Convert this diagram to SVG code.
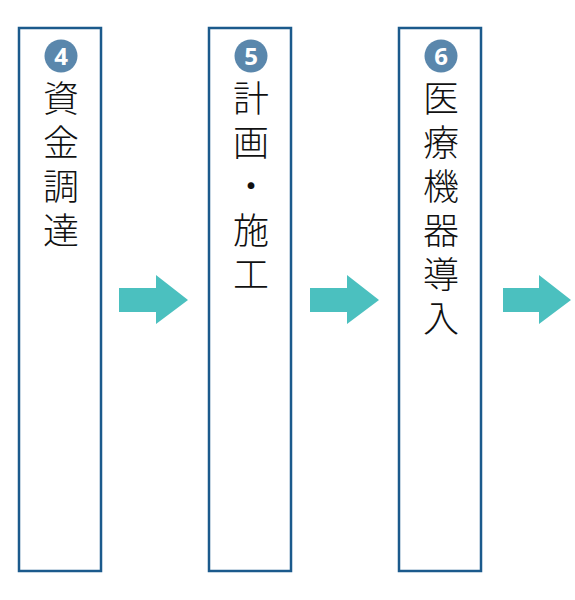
<svg xmlns="http://www.w3.org/2000/svg" width="575" height="600" viewBox="0 0 575 600">
<style>
.box{fill:#fff;stroke:#1b5a8c;stroke-width:2.5}
.num{fill:#5a87ac}
.nt{font-family:"Open Sans","DejaVu Sans",sans-serif;font-weight:bold;font-size:24px;fill:#fff;text-anchor:middle}
.ch{font-family:"Noto Sans CJK JP",sans-serif;font-weight:300;font-size:36px;fill:#111;writing-mode:tb;letter-spacing:8px}
.arr{fill:#4bc0bf}
</style>
<rect width="575" height="600" fill="#fff"/>
<g id="node4">
<rect class="box" x="19" y="28" width="82" height="543"/>
<circle class="num" cx="61" cy="56" r="16.5"/>
<text class="nt" x="61" y="64.5">4</text>
<text class="ch" x="61" y="80">資金調達</text>
</g>
<g id="node5">
<rect class="box" x="209" y="28" width="82" height="543"/>
<circle class="num" cx="251" cy="56" r="16.5"/>
<text class="nt" x="251" y="64.5">5</text>
<text class="ch" x="251" y="80">計画・施工</text>
</g>
<g id="node6">
<rect class="box" x="399" y="28" width="82" height="543"/>
<circle class="num" cx="441" cy="56" r="16.5"/>
<text class="nt" x="441" y="64.5">6</text>
<text class="ch" x="441" y="80">医療機器導入</text>
</g>
<g id="connectors">
<polygon class="arr" points="119,288 156,288 156,275 188,300 156,324 156,312 119,312"/>
<polygon class="arr" points="310,288 347,288 347,275 379,300 347,324 347,312 310,312"/>
<polygon class="arr" points="503,288 539,288 539,275 571,300 539,324 539,312 503,312"/>
</g>
</svg>
